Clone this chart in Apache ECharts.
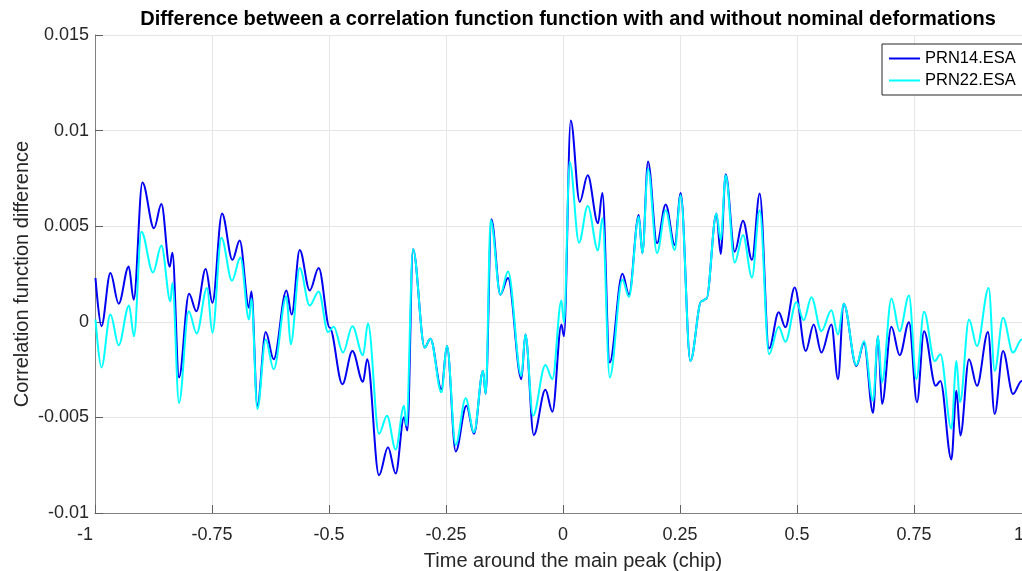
<!DOCTYPE html>
<html>
<head>
<meta charset="utf-8">
<script src="https://cdn.jsdelivr.net/npm/echarts@6/dist/echarts.min.js"></script>
<style>
html,body{margin:0;padding:0;background:#fff;overflow:hidden;width:1022px;height:571px;}
#chart{width:1031px;height:571px;}
</style>
</head>
<body>
<div id="chart"></div>
<script>
const titleText = 'Difference between a correlation function function with and without nominal deformations';
const xName = 'Time around the main peak (chip)';
const yName = 'Correlation function difference';
const seriesNames = ['PRN14.ESA', 'PRN22.ESA'];
const xTickLabels = ['-1', '-0.75', '-0.5', '-0.25', '0', '0.25', '0.5', '0.75', '1'];
const yTickLabels = ['-0.01', '-0.005', '0', '0.005', '0.01', '0.015'];

// [time (chip), correlation difference]
const prn14 = [
  [-0.999,0.00229],[-0.9863,-0.00023],[-0.9671,0.00255],[-0.9494,0.00095],[-0.928,0.00289],[-0.9173,0.00116],[-0.8987,0.00728],[-0.8739,0.00489],[-0.8581,0.00616],[-0.8404,0.00288],
  [-0.8346,0.00361],[-0.8205,-0.00291],[-0.7991,0.00147],[-0.7833,0.00055],[-0.7635,0.00276],[-0.7491,0.00099],[-0.7286,0.00567],[-0.7064,0.00324],[-0.6908,0.00425],[-0.6709,0.00073],
  [-0.6658,0.00159],[-0.653,-0.00439],[-0.6353,-0.00054],[-0.6182,-0.00196],[-0.591,0.00164],[-0.5797,0.00038],[-0.5626,0.00376],[-0.5412,0.00164],[-0.522,0.00281],[-0.4985,-0.00031],
  [-0.4714,-0.00326],[-0.45,-0.00153],[-0.4274,-0.00314],[-0.4184,-0.00196],[-0.3932,-0.00803],[-0.3739,-0.00656],[-0.3575,-0.00794],[-0.3397,-0.00499],[-0.3325,-0.00569],[-0.3205,0.0038],
  [-0.2955,-0.00135],[-0.2833,-0.00088],[-0.2598,-0.00352],[-0.2479,-0.00127],[-0.2293,-0.00678],[-0.2064,-0.00439],[-0.1902,-0.00586],[-0.1709,-0.00257],[-0.1652,-0.00378],[-0.153,0.00536],
  [-0.1338,0.00142],[-0.1175,0.00229],[-0.0889,-0.003],[-0.0803,-0.00066],[-0.0626,-0.00592],[-0.0376,-0.00356],[-0.0226,-0.0047],[-0.0034,-0.00014],[0.0021,-0.00075],[0.0165,0.01053],
  [0.0357,0.00627],[0.0528,0.00766],[0.0748,0.00515],[0.0842,0.00674],[0.0998,-0.00213],[0.1269,0.00251],[0.141,0.00142],[0.1618,0.00558],[0.1697,0.00359],[0.1816,0.00839],
  [0.2009,0.00411],[0.2194,0.00614],[0.2387,0.00402],[0.2515,0.00674],[0.2722,-0.00205],[0.2957,0.00107],[0.3064,0.0012],[0.3278,0.00567],[0.337,0.00355],[0.3476,0.00772],
  [0.3669,0.00367],[0.3846,0.00529],[0.4038,0.00324],[0.4203,0.00671],[0.4402,-0.0014],[0.4609,0.0005],[0.4752,-0.00028],[0.4951,0.0018],[0.5186,-0.00153],[0.5357,-0.00014],
  [0.5521,-0.00161],[0.5735,-0.00014],[0.5876,-0.003],[0.5998,0.00095],[0.6269,-0.00231],[0.6432,-0.00109],[0.6624,-0.00477],[0.6731,-0.00075],[0.6816,-0.0043],[0.7017,-0.00026],
  [0.7194,-0.00175],[0.7393,-0.00002],[0.7564,-0.00421],[0.7714,-0.00049],[0.7964,-0.00335],[0.8064,-0.00309],[0.8299,-0.0072],[0.8406,-0.00361],[0.8491,-0.00595],[0.8675,-0.00196],
  [0.8846,-0.00335],[0.9081,-0.00054],[0.9224,-0.00482],[0.9402,-0.00153],[0.9615,-0.00378],[0.9801,-0.00309],[1.0,-0.0032]
];

const prn22 = [
  [-0.999,0.00012],[-0.9863,-0.00239],[-0.9671,0.00038],[-0.9494,-0.00123],[-0.9274,0.00085],[-0.9167,-0.00075],[-0.9009,0.00471],[-0.8761,0.00258],[-0.8581,0.00399],[-0.8389,0.00107],
  [-0.8346,0.00203],[-0.8205,-0.00425],[-0.7998,0.00055],[-0.7827,-0.00061],[-0.7607,0.00177],[-0.7491,-0.00057],[-0.7299,0.0044],[-0.7073,0.00215],[-0.6893,0.00336],[-0.6709,0.00012],
  [-0.6658,0.0012],[-0.653,-0.00456],[-0.6353,-0.00092],[-0.6182,-0.00248],[-0.591,0.00133],[-0.5818,-0.00118],[-0.5626,0.00281],[-0.5412,0.00085],[-0.522,0.00159],[-0.5021,-0.00054],
  [-0.49,-0.00026],[-0.4701,-0.00161],[-0.45,-0.00023],[-0.4274,-0.00175],[-0.4167,-0.00009],[-0.3932,-0.00586],[-0.3761,-0.00491],[-0.3575,-0.00668],[-0.3397,-0.00439],[-0.3346,-0.00543],
  [-0.3205,0.0038],[-0.2955,-0.00135],[-0.2833,-0.00088],[-0.2598,-0.00369],[-0.2479,-0.00127],[-0.2293,-0.00644],[-0.2079,-0.004],[-0.1902,-0.00578],[-0.1709,-0.00257],[-0.1652,-0.00378],
  [-0.1545,0.00532],[-0.1338,0.00142],[-0.1175,0.00263],[-0.0889,-0.00283],[-0.0803,-0.00066],[-0.0641,-0.00491],[-0.0376,-0.00226],[-0.0226,-0.003],[-0.0034,0.00112],[0.0021,-0.00004],
  [0.0143,0.00836],[0.0342,0.00414],[0.0528,0.00605],[0.0748,0.00373],[0.0842,0.00541],[0.0998,-0.00291],[0.1269,0.0022],[0.141,0.0013],[0.1618,0.00549],[0.1697,0.00359],
  [0.1816,0.00801],[0.2009,0.00359],[0.2194,0.00584],[0.2387,0.00376],[0.2515,0.00662],[0.2722,-0.00205],[0.2957,0.00107],[0.3064,0.0012],[0.3278,0.00567],[0.337,0.00428],
  [0.3476,0.00767],[0.3669,0.0031],[0.3846,0.00454],[0.4038,0.00232],[0.4203,0.00584],[0.4402,-0.0017],[0.4609,-0.00026],[0.4752,-0.00104],[0.4987,0.00102],[0.5143,0.00008],
  [0.5308,0.00128],[0.5521,-0.00049],[0.5735,0.0006],[0.5876,-0.00066],[0.5998,0.00095],[0.6269,-0.00227],[0.6432,-0.00102],[0.6624,-0.00413],[0.6731,-0.00075],[0.6816,-0.00317],
  [0.7017,0.0012],[0.7194,-0.00049],[0.7393,0.00137],[0.7551,-0.003],[0.7714,0.00052],[0.7942,-0.00205],[0.8064,-0.0017],[0.8299,-0.0056],[0.8406,-0.00205],[0.8483,-0.00421],
  [0.8675,0.00012],[0.8846,-0.00127],[0.9096,0.00177],[0.9224,-0.00257],[0.9402,0.00021],[0.9615,-0.00161],[0.9801,-0.00092],[1.0,-0.0008]
];

const FONT = '"Liberation Sans", Arial, Helvetica, sans-serif';
const chart = echarts.init(document.getElementById('chart'), null, {renderer: 'canvas'});

const option = {
  backgroundColor: '#ffffff',
  animation: false,
  title: {
    text: titleText,
    left: 563,
    textAlign: 'center',
    top: 4,
    textStyle: {fontFamily: FONT, fontSize: 20, fontWeight: 'bold', color: '#000000'}
  },
  legend: {
    data: seriesNames,
    orient: 'vertical',
    left: 882,
    top: 44,
    padding: [6, 7, 6, 7],
    itemGap: 5,
    itemWidth: 31,
    itemHeight: 2,
    icon: 'rect',
    borderColor: '#262626',
    borderWidth: 1,
    borderRadius: 0,
    backgroundColor: '#ffffff',
    textStyle: {fontFamily: FONT, fontSize: 16.5, color: '#000000', lineHeight: 16, padding: [0, 0, 0, 0]}
  },
  grid: {left: 95, right: 0, top: 35, bottom: 58, containLabel: false, outerBoundsMode: 'none'},
  xAxis: {
    type: 'value',
    min: -1,
    max: 1,
    interval: 0.25,
    name: xName,
    nameLocation: 'middle',
    nameGap: 38,
    nameMoveOverlap: false,
    nameTextStyle: {fontFamily: FONT, fontSize: 20, color: '#262626', padding: [0, 0, 0, 20]},
    axisLine: {show: true, onZero: false, lineStyle: {color: '#808080', width: 1}},
    axisTick: {show: true, inside: true, length: 8, lineStyle: {color: '#606060'}},
    splitLine: {show: true, lineStyle: {color: '#e6e6e6', width: 1}},
    axisLabel: {
      fontFamily: FONT, fontSize: 18, color: '#262626', margin: 13,
      formatter: function (v, i) {
        const t = xTickLabels[i];
        if (i === 0) return '{s|' + t + '}';
        if (i === xTickLabels.length - 1) return '{e|' + t + '}';
        return t;
      },
      rich: {
        s: {fontFamily: FONT, fontSize: 18, color: '#262626', padding: [0, 20, 0, 0]},
        e: {fontFamily: FONT, fontSize: 18, color: '#262626', padding: [0, 24, 0, 0]}
      }
    }
  },
  yAxis: {
    type: 'value',
    min: -0.01,
    max: 0.015,
    interval: 0.005,
    name: yName,
    nameLocation: 'middle',
    nameRotate: 90,
    nameGap: 63,
    nameMoveOverlap: false,
    nameTextStyle: {fontFamily: FONT, fontSize: 20, color: '#262626'},
    axisLine: {show: true, onZero: false, lineStyle: {color: '#808080', width: 1}},
    axisTick: {show: true, inside: true, length: 8, lineStyle: {color: '#606060'}},
    splitLine: {show: true, lineStyle: {color: '#e6e6e6', width: 1}},
    axisLabel: {
      fontFamily: FONT, fontSize: 18, color: '#262626', margin: 6,
      formatter: function (v, i) { return yTickLabels[i]; }
    }
  },
  series: [
    {
      name: seriesNames[0], type: 'line', data: prn14,
      showSymbol: false, symbol: 'none', smooth: 0.35, smoothMonotone: 'x',
      lineStyle: {color: '#0000f2', width: 2}, itemStyle: {color: '#0000f2'}, z: 2
    },
    {
      name: seriesNames[1], type: 'line', data: prn22,
      showSymbol: false, symbol: 'none', smooth: 0.35, smoothMonotone: 'x',
      lineStyle: {color: '#00ffff', width: 2}, itemStyle: {color: '#00ffff'}, z: 3
    }
  ]
};
chart.setOption(option);
</script>
</body>
</html>
